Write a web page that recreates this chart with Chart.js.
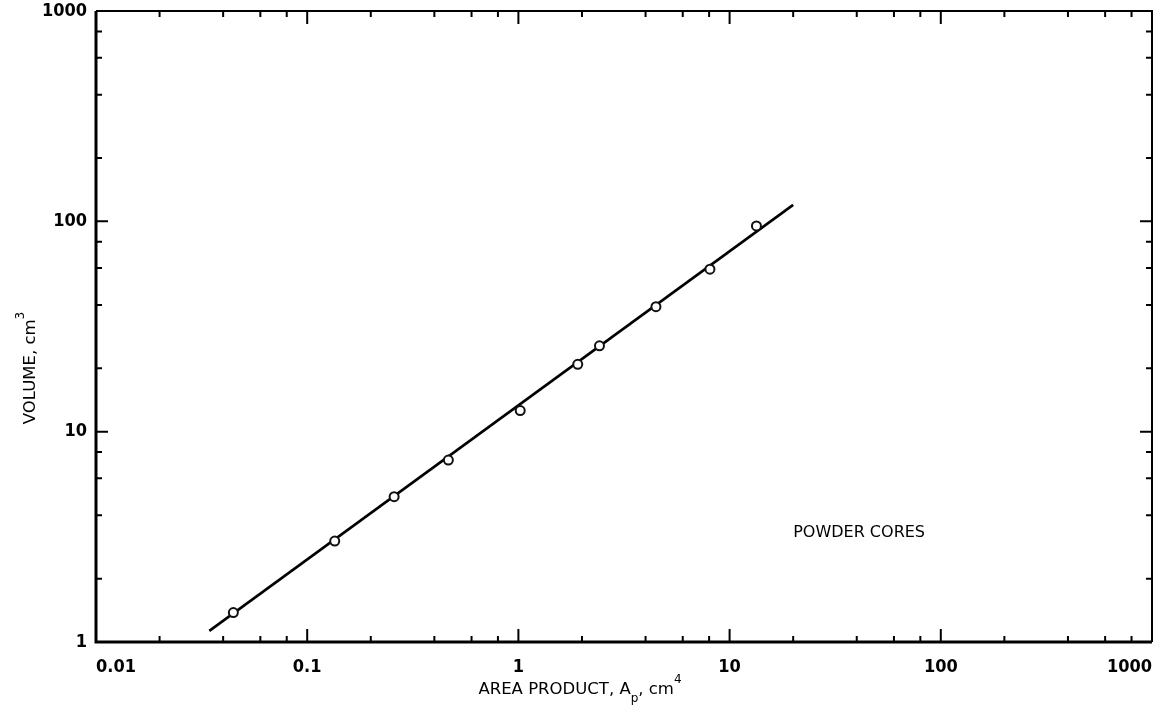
<!DOCTYPE html>
<html lang="en">
  <head>
    <meta charset="UTF-8" />
    <title>Volume vs Area Product - Powder Cores</title>
    <script src="https://cdn.jsdelivr.net/npm/chart.js"></script>
    <style>
      html, body { margin: 0; padding: 0; background: #fff; }
      #wrap { width: 1159px; height: 713px; position: relative; }
    </style>
  </head>
  <body>
    <div id="wrap"><canvas id="grafico"></canvas></div>

    <script>
      const areaProduct = [0.0447, 0.135, 0.258, 0.466, 1.02, 1.91, 2.42, 4.48, 8.07, 13.4];
      const volume = [1.38, 3.02, 4.91, 7.33, 12.6, 20.9, 25.6, 39.3, 59.2, 95.1];

      // fitted straight line (end points)
      const fitX = [0.0344, 20.0];
      const fitY = [1.13, 119.7];

      // axes
      const xDecades = [0.01, 0.1, 1, 10, 100, 1000];
      const xTickLabels = ['0.01', '0.1', '1', '10', '100', '1000'];
      const yDecades = [1, 10, 100, 1000];
      const yTickLabels = ['1', '10', '100', '1000'];
      const minorSteps = [2, 4, 6, 8];

      const noteText = 'POWDER CORES';
      const notePos = { x: 20, y: 3.3 };

      const tickFont = { family: "'Liberation Sans Narrow', 'DejaVu Sans Condensed', sans-serif", size: 18, weight: 'bold' };
      const titleFont = "16.5px 'DejaVu Sans', sans-serif";
      const noteFont = "16px 'DejaVu Sans', sans-serif";
      const smallFont = "12px 'DejaVu Sans', sans-serif";

      // draws the frame + inward ticks on all four sides
      const frameTicks = {
        id: 'frameTicks',
        afterDraw(chart) {
          const { ctx, chartArea: a, scales: { x, y } } = chart;
          ctx.save();
          ctx.strokeStyle = '#000';
          ctx.lineCap = 'butt';

          ctx.lineWidth = 3;
          ctx.beginPath();
          ctx.moveTo(a.left, a.top);
          ctx.lineTo(a.left, a.bottom);
          ctx.lineTo(a.right, a.bottom);
          ctx.stroke();
          ctx.lineWidth = 2;
          ctx.beginPath();
          ctx.moveTo(a.left, a.top);
          ctx.lineTo(a.right, a.top);
          ctx.lineTo(a.right, a.bottom);
          ctx.stroke();

          ctx.lineWidth = 2;
          const xTick = (v, len) => {
            const px = x.getPixelForValue(v);
            ctx.beginPath();
            ctx.moveTo(px, a.bottom); ctx.lineTo(px, a.bottom - len);
            ctx.moveTo(px, a.top); ctx.lineTo(px, a.top + len);
            ctx.stroke();
          };
          const yTick = (v, len) => {
            const py = y.getPixelForValue(v);
            ctx.beginPath();
            ctx.moveTo(a.left, py); ctx.lineTo(a.left + len, py);
            ctx.moveTo(a.right, py); ctx.lineTo(a.right - len, py);
            ctx.stroke();
          };

          xDecades.forEach((d, i) => {
            if (i > 0 && i < xDecades.length - 1) xTick(d, 13);
            if (i < xDecades.length - 1) minorSteps.forEach(m => xTick(d * m, 6));
          });
          yDecades.forEach((d, i) => {
            if (i > 0 && i < yDecades.length - 1) yTick(d, 12);
            if (i < yDecades.length - 1) minorSteps.forEach(m => yTick(d * m, 6));
          });

          // note
          ctx.fillStyle = '#000';
          ctx.font = noteFont;
          ctx.textAlign = 'left';
          ctx.textBaseline = 'middle';
          ctx.fillText(noteText, x.getPixelForValue(notePos.x), y.getPixelForValue(notePos.y));

          // axis titles with sub/superscripts
          const drawParts = (parts, cx, cy) => {
            let w = 0;
            parts.forEach(p => { ctx.font = p.f; w += ctx.measureText(p.t).width; });
            let cur = cx - w / 2;
            ctx.textAlign = 'left';
            parts.forEach(p => {
              ctx.font = p.f;
              ctx.fillText(p.t, cur, cy + p.dy);
              cur += ctx.measureText(p.t).width;
            });
          };

          drawParts([
            { t: 'AREA PRODUCT, A', f: titleFont, dy: 0 },
            { t: 'p', f: smallFont, dy: 9 },
            { t: ', cm', f: titleFont, dy: 0 },
            { t: '4', f: smallFont, dy: -10 }
          ], a.left + 484, a.bottom + 48);

          ctx.translate(31, a.top + 357);
          ctx.rotate(-Math.PI / 2);
          drawParts([
            { t: 'VOLUME, cm', f: titleFont, dy: 0 },
            { t: '3', f: smallFont, dy: -10 }
          ], 0, 0);

          ctx.restore();
        }
      };

      const chart = new Chart(document.getElementById('grafico').getContext('2d'), {
        type: 'scatter',
        data: {
          datasets: [
            {
              label: 'Fit',
              data: fitX.map((v, i) => ({ x: v, y: fitY[i] })),
              showLine: true,
              borderColor: '#000',
              borderWidth: 2.6,
              pointRadius: 0,
              order: 2
            },
            {
              label: 'Powder cores',
              data: areaProduct.map((v, i) => ({ x: v, y: volume[i] })),
              showLine: false,
              pointStyle: 'circle',
              pointRadius: 4.5,
              borderWidth: 2,
              borderColor: '#111',
              backgroundColor: '#fff',
              order: 1
            }
          ]
        },
        options: {
          responsive: true,
          maintainAspectRatio: false,
          animation: false,
          layout: { padding: { top: 11, right: 7, bottom: 0, left: 0 } },
          plugins: {
            legend: { display: false },
            tooltip: { enabled: false }
          },
          scales: {
            x: {
              type: 'logarithmic',
              min: 0.01,
              max: 1000,
              grid: { display: false },
              border: { display: false },
              afterBuildTicks: s => { s.ticks = xDecades.map(v => ({ value: v })); },
              afterFit: s => { s.height = 71; s.paddingLeft = 0; s.paddingRight = 0; },
              ticks: {
                autoSkip: false,
                maxRotation: 0,
                align: 'inner',
                padding: 7,
                color: '#000',
                font: tickFont,
                callback: (v, i) => xTickLabels[i]
              }
            },
            y: {
              type: 'logarithmic',
              min: 1,
              max: 1000,
              grid: { display: false },
              border: { display: false },
              afterBuildTicks: s => { s.ticks = yDecades.map(v => ({ value: v })); },
              afterFit: s => { s.width = 96; s.paddingTop = 0; s.paddingBottom = 0; },
              ticks: {
                autoSkip: false,
                padding: 1,
                color: '#000',
                font: tickFont,
                callback: (v, i) => yTickLabels[i]
              }
            }
          }
        },
        plugins: [frameTicks]
      });
    </script>
  </body>
</html>
